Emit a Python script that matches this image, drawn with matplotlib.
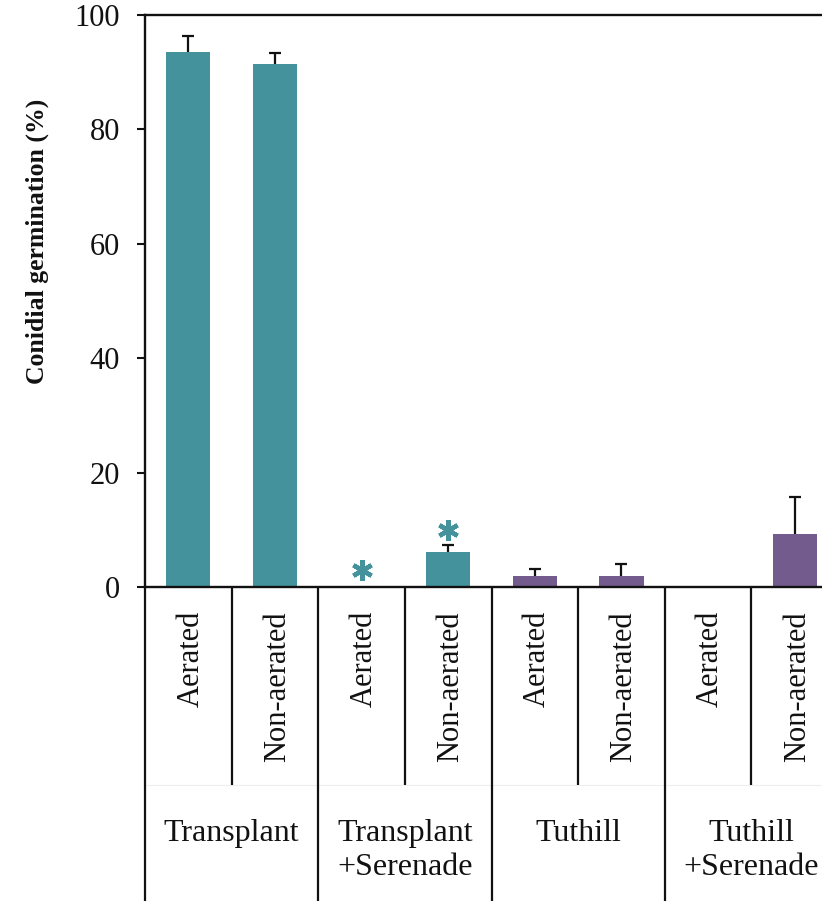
import matplotlib
matplotlib.use("Agg")
import matplotlib.pyplot as plt
import numpy as np

TEAL = "#44929c"
PURPLE = "#735b8d"
INK = "#111111"

# Germination per treatment (%), mean and upper error
groups = ["Transplant", "Transplant\n+Serenade", "Tuthill", "Tuthill\n+Serenade"]
conditions = ["Aerated", "Non-aerated"]
means = [93.5, 91.4, 0.0, 6.1, 2.0, 2.0, 0.0, 9.3]
errors = [2.9, 1.9, 0.0, 1.2, 1.2, 2.0, 0.0, 6.4]
bar_colors = [TEAL] * 4 + [PURPLE] * 4
# significance marks: (bar index, height above bar + error)
stars = [(2, 3.0), (3, 2.6)]

plt.rcParams.update({
    "font.family": ["Liberation Serif", "DejaVu Serif"],
    "axes.linewidth": 1.7,
})

fig = plt.figure(figsize=(8.22, 9.01), dpi=100)
W, H = 822, 901
left_px, top_px, bottom_px, right_px = 145, 15, 587, 838
ax = fig.add_axes([left_px / W, 1 - bottom_px / H,
                   (right_px - left_px) / W, (bottom_px - top_px) / H])

n = len(means)
x = np.arange(n) + 0.5
ax.bar(x, means, width=0.51, color=bar_colors, zorder=2)

# upper-only error bars, skipping bars with no spread
m = np.array(errors) > 0
_, caps, _ = ax.errorbar(x[m], np.array(means)[m],
                         yerr=[np.zeros(m.sum()), np.array(errors)[m]],
                         fmt="none", ecolor=INK, elinewidth=1.6,
                         capsize=4.3, capthick=1.6, zorder=3)
caps[0].set_visible(False)

for i, dy in stars:
    ax.plot(x[i], means[i] + errors[i] + dy, marker=(6, 2, 0), ms=15,
            mew=3.2, color=TEAL, zorder=4)

ax.set_xlim(0, n)
ax.set_ylim(0, 100)
ax.set_yticks(range(0, 101, 20))
ax.set_xticks([])
ax.tick_params(axis="y", direction="out", length=6, width=1.5,
               labelsize=22, pad=12, colors=INK)
ax.spines["right"].set_visible(False)
for s in ax.spines.values():
    s.set_color(INK)

ax.text(-0.156, 0.605, "Conidial germination (%)", transform=ax.transAxes,
        rotation=90, ha="center", va="center", fontsize=18.5,
        fontweight="bold", color=INK)

# Category table under the axis
tr = ax.get_xaxis_transform()
span = bottom_px - top_px
row_y = (bottom_px - 785) / span
end_y = (bottom_px - 905) / span
for k in range(n + 1):
    y_end = end_y if k % 2 == 0 else row_y
    ax.plot([k, k], [0, y_end], transform=tr, color=INK, lw=1.6,
            clip_on=False, solid_capstyle="butt")
ax.plot([0, n], [row_y, row_y], transform=tr, color="#eeeeee", lw=0.8,
        clip_on=False, zorder=0)

cond_y = (bottom_px - 611) / span
for i in range(n):
    ax.text(x[i] + 0.03, cond_y, conditions[i % 2], transform=tr,
            rotation=90, ha="center", va="top", fontsize=22, color=INK)

grp_y = (bottom_px - 819) / span
for g, label in enumerate(groups):
    ax.text(2 * g + 1, grp_y, label, transform=tr, ha="center", va="top",
            fontsize=23, color=INK, linespacing=1.22)

fig.savefig("out.png", dpi=100)
